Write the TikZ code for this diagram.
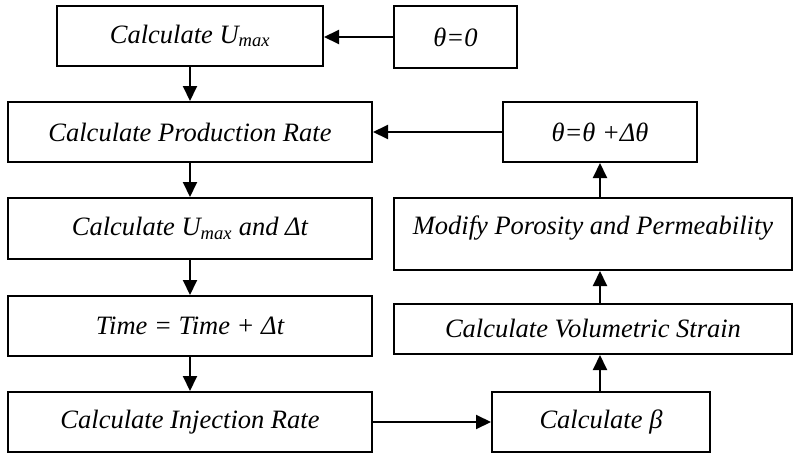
\documentclass[tikz,border=0pt]{standalone}
\usepackage{fontspec}
\setmainfont{Liberation Serif}
\usepackage{tikz}
\usetikzlibrary{arrows.meta, positioning}

\tikzset{
  box/.style={draw, line width=2pt, inner sep=0pt, font=\fontsize{26.5}{30}\selectfont\itshape},
  flow/.style={line width=2pt, -{Triangle[length=15pt,width=14pt]}}
}

\begin{document}
\begin{tikzpicture}[x=1pt, y=-1pt]
  \useasboundingbox (0,0) rectangle (796,455);

  % left column
  \node[box, minimum width=266pt, minimum height=60pt] (umax) at (190,36) {Calculate U\textsubscript{max}};
  \node[box, minimum width=364pt, minimum height=60pt] (prod) at (190,132) {Calculate Production Rate};
  \node[box, minimum width=364pt, minimum height=61pt] (umaxdt) at (190,228.5) {Calculate U\textsubscript{max} and Δt};
  \node[box, minimum width=364pt, minimum height=60pt] (time) at (190,326) {Time = Time + Δt};
  \node[box, minimum width=364pt, minimum height=60pt] (inj) at (190,422) {Calculate Injection Rate};

  % right column
  \node[box, minimum width=123pt, minimum height=62pt] (th0) at (455.5,37) {θ=0};
  \node[box, minimum width=194pt, minimum height=60pt] (thinc) at (600,132) {θ=θ +Δθ};
  \node[box, minimum width=398pt, text height=36pt, text depth=36pt] (modify) at (593,234) {Modify Porosity and Permeability};
  \node[box, minimum width=398pt, minimum height=50pt] (strain) at (593,329) {Calculate Volumetric Strain};
  \node[box, minimum width=218pt, minimum height=60pt] (beta) at (601,422) {Calculate β};

  % arrows
  \draw[flow] (umax) -- (prod);
  \draw[flow] (prod) -- (umaxdt);
  \draw[flow] (umaxdt) -- (time);
  \draw[flow] (time) -- (inj);
  \draw[flow] (th0.west) -- (th0.west -| umax.east);
  \draw[flow] (thinc.west) -- (thinc.west -| prod.east);
  \draw[flow] (inj.east) -- (inj.east -| beta.west);
  \draw[flow] (beta.north -| thinc.south) -- (strain.south -| thinc.south);
  \draw[flow] (strain.north -| thinc.south) -- (modify.south -| thinc.south);
  \draw[flow] (modify.north -| thinc.south) -- (thinc.south);
\end{tikzpicture}
\end{document}
